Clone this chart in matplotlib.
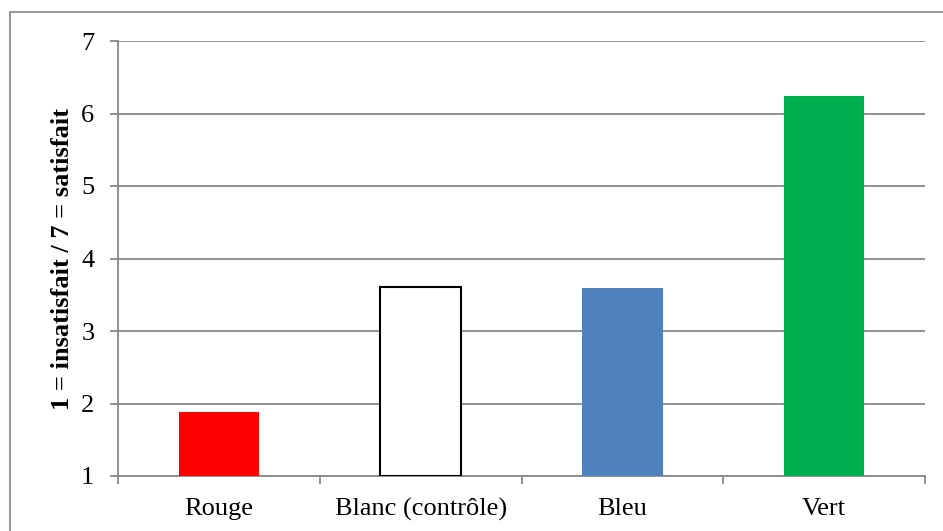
import numpy as np
import matplotlib.pyplot as plt
from matplotlib.patches import Rectangle

categories = ['Rouge', 'Blanc (contrôle)', 'Bleu', 'Vert']
values = [1.88, 3.61, 3.60, 6.24]
colors = ['#FF0000', '#FFFFFF', '#4F81BD', '#00B050']
edges = ['#FF0000', '#000000', '#4F81BD', '#00B050']
base = 1

plt.rcParams['font.family'] = ['Liberation Serif', 'DejaVu Serif']

fig = plt.figure(figsize=(9.43, 5.31), dpi=100)
ax = fig.add_axes([118/943, 1 - 476/531, (925 - 118)/943, (476 - 41)/531])

# outer chart border (runs off the right/bottom edge)
fig.patches.append(Rectangle((10/943, -0.05), 1.0, 1 - 12/531 + 0.05,
                             transform=fig.transFigure, fill=False,
                             edgecolor='#8C8C8C', linewidth=1.3))

x = np.arange(len(categories))
heights = [v - base for v in values]
for i in range(len(categories)):
    lw = 1.5 if colors[i] == '#FFFFFF' else 0
    ax.bar(x[i], heights[i], bottom=base, width=0.4, color=colors[i],
           edgecolor=edges[i], linewidth=lw, zorder=3)

ax.set_xlim(-0.5, len(categories) - 0.5)
ax.set_ylim(1, 7)
ax.set_yticks(range(1, 8))
ax.yaxis.grid(True, color='#888888', linewidth=1.3, zorder=0)

ax.set_xticks(x)
ax.set_xticklabels(categories)
ax.set_xticks(np.arange(-0.5, len(categories)), minor=True)
ax.tick_params(axis='x', which='major', length=0, pad=16, labelsize=19)
ax.tick_params(axis='x', which='minor', length=6, width=1.3, color='#888888')
ax.tick_params(axis='y', length=6, width=1.3, color='#888888', pad=11, labelsize=19)

for s in ['top', 'right']:
    ax.spines[s].set_visible(False)
for s in ['left', 'bottom']:
    ax.spines[s].set_color('#888888')
    ax.spines[s].set_linewidth(1.3)

ax.set_ylabel('1 = insatisfait / 7 = satisfait', fontsize=19, fontweight='bold', labelpad=5)

fig.savefig('out.png', dpi=100)
